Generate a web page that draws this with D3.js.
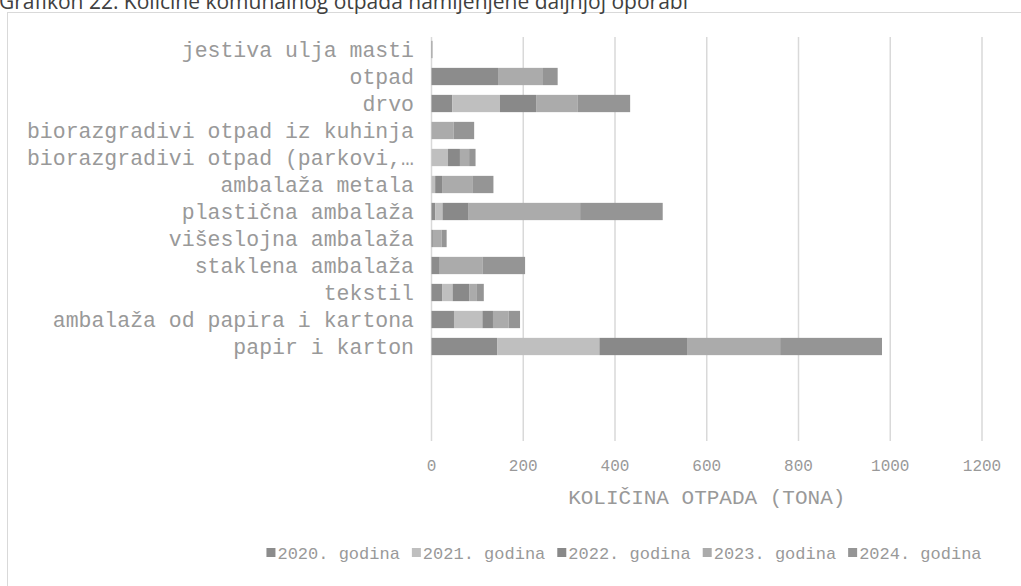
<!DOCTYPE html>
<html>
<head>
<meta charset="utf-8">
<script src="https://cdn.jsdelivr.net/npm/d3@7"></script>
<style>
  body { margin: 0; background: #fff; }
  svg { display: block; }
</style>
</head>
<body>
<div id="chart"></div>
<script>
// categories, top to bottom as in the picture
var categories = ["jestiva ulja masti", "otpad", "drvo", "biorazgradivi otpad iz kuhinja",
    "biorazgradivi otpad (parkovi,…", "ambalaža  metala", "plastična ambalaža", "višeslojna ambalaža",
    "staklena ambalaža", "tekstil", "ambalaža od papira i kartona", "papir i karton"]
var blankRows = ["", " ", "  "]
var years = ["2020. godina", "2021. godina", "2022. godina", "2023. godina", "2024. godina"]
var y2020 = [2, 145, 45, 0, 0, 0, 8, 3, 18, 23, 49, 143]
var y2021 = [0, 0, 104, 0, 36, 8, 16, 0, 0, 23, 62, 223]
var y2022 = [0, 0, 79, 0, 26, 15, 57, 0, 0, 36, 23, 191]
var y2023 = [0, 98, 91, 48, 20, 66, 243, 19, 93, 17, 34, 203]
var y2024 = [0, 32, 114, 45, 14, 46, 180, 11, 93, 15, 25, 222]
var xTicks = [0, 200, 400, 600, 800, 1000, 1200]
var colors = ["#8c8c8c", "#bfbfbf", "#898989", "#ababab", "#959595"]

var width = 1021, height = 586
var textColor = "#999999"
var svg = d3.select("#chart").append("svg")
    .attr("width", width).attr("height", height)
    .attr("viewBox", [0, 0, width, height])

// frame around the chart
svg.append("rect")
    .attr("x", 7.5).attr("y", 12.5).attr("width", 1040).attr("height", 600)
    .attr("fill", "none").attr("stroke", "#d9d9d9")

// title (cut by the top edge, as in the source)
svg.append("text")
    .attr("x", -1).attr("y", 9)
    .attr("font-family", "Open Sans, sans-serif").attr("font-size", 21)
    .attr("fill", "#404040")
    .text("Grafikon 22. Količine komunalnog otpada namijenjene daljnjoj oporabi")

var xScale = d3.scaleLinear([0, 1200], [431.5, 982])
var yScale = d3.scaleBand(categories.concat(blankRows), [36, 441]).paddingInner(0.36).paddingOuter(0.18)

// gridlines
svg.append("g")
    .selectAll("line")
    .data(xTicks)
    .join("line")
        .attr("x1", d => xScale(d)).attr("x2", d => xScale(d))
        .attr("y1", 37).attr("y2", 441)
        .attr("stroke", "#d9d9d9").attr("stroke-width", 1.5)

// stacked data
var rows = categories.map((c, i) => ({cat: c, v0: y2020[i], v1: y2021[i], v2: y2022[i], v3: y2023[i], v4: y2024[i]}))
var series = d3.stack().keys(["v0", "v1", "v2", "v3", "v4"])(rows)

svg.append("g")
    .selectAll("g")
    .data(series)
    .join("g")
        .attr("fill", (s, i) => colors[i])
    .selectAll("rect")
    .data(s => s)
    .join("rect")
        .attr("x", d => xScale(d[0]))
        .attr("y", d => yScale(d.data.cat))
        .attr("width", d => xScale(d[1]) - xScale(d[0]))
        .attr("height", yScale.bandwidth())

// category labels
svg.append("g")
    .selectAll("text")
    .data(categories)
    .join("text")
        .attr("x", 414)
        .attr("y", d => yScale(d) + yScale.bandwidth() / 2)
        .attr("dy", "0.35em")
        .attr("text-anchor", "end")
        .attr("font-family", "Liberation Mono, monospace").attr("font-size", 21.5)
        .attr("fill", textColor)
        .text(d => d)

// x tick labels
svg.append("g")
    .selectAll("text")
    .data(xTicks)
    .join("text")
        .attr("x", d => xScale(d))
        .attr("y", 465)
        .attr("dy", "0.35em")
        .attr("text-anchor", "middle")
        .attr("font-family", "Liberation Mono, monospace").attr("font-size", 16)
        .attr("fill", textColor)
        .text(d => d)

// axis title
svg.append("text")
    .attr("x", (xScale(0) + xScale(1200)) / 2).attr("y", 497)
    .attr("dy", "0.35em").attr("text-anchor", "middle")
    .attr("font-family", "Liberation Mono, monospace").attr("font-size", 21)
    .attr("fill", textColor)
    .text("KOLIČINA OTPADA (TONA)")

// legend
var legend = svg.append("g")
var lx = 0
years.forEach((y, i) => {
    legend.append("rect")
        .attr("x", lx).attr("y", 548).attr("width", 9).attr("height", 9)
        .attr("fill", colors[i])
    var t = legend.append("text")
        .attr("x", lx + 11).attr("y", 553)
        .attr("dy", "0.35em")
        .attr("font-family", "Liberation Mono, monospace").attr("font-size", 17)
        .attr("fill", textColor)
        .text(y)
    lx += 11 + t.node().getComputedTextLength() + 12
})
var legendWidth = lx - 12
legend.attr("transform", "translate(" + (624 - legendWidth / 2) + ",0)")
</script>
</body>
</html>
